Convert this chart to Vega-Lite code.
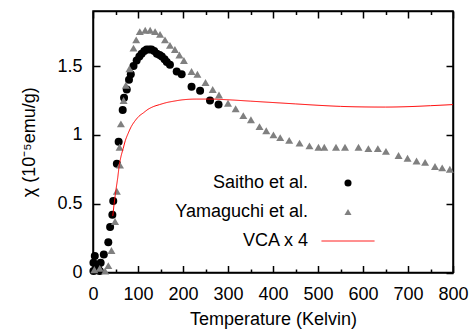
{
  "$schema": "https://vega.github.io/schema/vega-lite/v6.json",
  "width": 360,
  "height": 261.5,
  "autosize": "none",
  "padding": {"left": 93, "top": 11, "right": 21, "bottom": 57.5},
  "config": {
    "view": {"stroke": "#000000", "strokeWidth": 1.5},
    "font": "Liberation Sans",
    "axis": {
      "grid": false,
      "domainColor": "#000000",
      "domainWidth": 1.5,
      "tickColor": "#000000",
      "tickWidth": 1.5,
      "labelColor": "#000000",
      "titleColor": "#000000",
      "labelFont": "Liberation Sans",
      "titleFont": "Liberation Sans",
      "labelFontSize": 18,
      "titleFontSize": 18,
      "titleFontWeight": "normal"
    },
    "legend": {
      "labelFont": "Liberation Sans",
      "labelFontSize": 18,
      "labelColor": "#000000",
      "labelLimit": 0
    }
  },
  "data": {
    "values": [
      {"series": "Saitho et al.", "T": 1, "chi": 0.01},
      {"series": "Saitho et al.", "T": 1, "chi": 0.07},
      {"series": "Saitho et al.", "T": 4, "chi": 0.12},
      {"series": "Saitho et al.", "T": 11, "chi": 0.03},
      {"series": "Saitho et al.", "T": 15, "chi": 0.01},
      {"series": "Saitho et al.", "T": 17, "chi": 0.07},
      {"series": "Saitho et al.", "T": 24, "chi": 0.13},
      {"series": "Saitho et al.", "T": 34, "chi": 0.22},
      {"series": "Saitho et al.", "T": 38, "chi": 0.33},
      {"series": "Saitho et al.", "T": 43, "chi": 0.42},
      {"series": "Saitho et al.", "T": 45, "chi": 0.52},
      {"series": "Saitho et al.", "T": 53, "chi": 0.79},
      {"series": "Saitho et al.", "T": 57, "chi": 0.95},
      {"series": "Saitho et al.", "T": 66, "chi": 1.18},
      {"series": "Saitho et al.", "T": 69, "chi": 1.27},
      {"series": "Saitho et al.", "T": 75, "chi": 1.33},
      {"series": "Saitho et al.", "T": 80, "chi": 1.40},
      {"series": "Saitho et al.", "T": 84, "chi": 1.44},
      {"series": "Saitho et al.", "T": 90, "chi": 1.50},
      {"series": "Saitho et al.", "T": 97, "chi": 1.54},
      {"series": "Saitho et al.", "T": 103, "chi": 1.57},
      {"series": "Saitho et al.", "T": 108, "chi": 1.59},
      {"series": "Saitho et al.", "T": 114, "chi": 1.61},
      {"series": "Saitho et al.", "T": 119, "chi": 1.62},
      {"series": "Saitho et al.", "T": 125, "chi": 1.62},
      {"series": "Saitho et al.", "T": 130, "chi": 1.62},
      {"series": "Saitho et al.", "T": 136, "chi": 1.61},
      {"series": "Saitho et al.", "T": 142, "chi": 1.59},
      {"series": "Saitho et al.", "T": 148, "chi": 1.58},
      {"series": "Saitho et al.", "T": 153, "chi": 1.57},
      {"series": "Saitho et al.", "T": 159, "chi": 1.55},
      {"series": "Saitho et al.", "T": 164, "chi": 1.53},
      {"series": "Saitho et al.", "T": 171, "chi": 1.51},
      {"series": "Saitho et al.", "T": 186, "chi": 1.46},
      {"series": "Saitho et al.", "T": 197, "chi": 1.44},
      {"series": "Saitho et al.", "T": 219, "chi": 1.35},
      {"series": "Saitho et al.", "T": 238, "chi": 1.32},
      {"series": "Saitho et al.", "T": 260, "chi": 1.25},
      {"series": "Saitho et al.", "T": 279, "chi": 1.22},
      {"series": "Yamaguchi et al.", "T": 3, "chi": 0.02},
      {"series": "Yamaguchi et al.", "T": 15, "chi": 0.03},
      {"series": "Yamaguchi et al.", "T": 27, "chi": 0.01},
      {"series": "Yamaguchi et al.", "T": 34, "chi": 0.05},
      {"series": "Yamaguchi et al.", "T": 41, "chi": 0.16},
      {"series": "Yamaguchi et al.", "T": 49, "chi": 0.37},
      {"series": "Yamaguchi et al.", "T": 53, "chi": 0.59},
      {"series": "Yamaguchi et al.", "T": 60, "chi": 0.78},
      {"series": "Yamaguchi et al.", "T": 59, "chi": 0.91},
      {"series": "Yamaguchi et al.", "T": 62, "chi": 1.08},
      {"series": "Yamaguchi et al.", "T": 68, "chi": 1.25},
      {"series": "Yamaguchi et al.", "T": 73, "chi": 1.36},
      {"series": "Yamaguchi et al.", "T": 81, "chi": 1.48},
      {"series": "Yamaguchi et al.", "T": 90, "chi": 1.63},
      {"series": "Yamaguchi et al.", "T": 96, "chi": 1.69},
      {"series": "Yamaguchi et al.", "T": 104, "chi": 1.75},
      {"series": "Yamaguchi et al.", "T": 116, "chi": 1.76},
      {"series": "Yamaguchi et al.", "T": 127, "chi": 1.76},
      {"series": "Yamaguchi et al.", "T": 138, "chi": 1.75},
      {"series": "Yamaguchi et al.", "T": 149, "chi": 1.73},
      {"series": "Yamaguchi et al.", "T": 160, "chi": 1.69},
      {"series": "Yamaguchi et al.", "T": 171, "chi": 1.65},
      {"series": "Yamaguchi et al.", "T": 182, "chi": 1.62},
      {"series": "Yamaguchi et al.", "T": 192, "chi": 1.58},
      {"series": "Yamaguchi et al.", "T": 202, "chi": 1.54},
      {"series": "Yamaguchi et al.", "T": 219, "chi": 1.46},
      {"series": "Yamaguchi et al.", "T": 232, "chi": 1.44},
      {"series": "Yamaguchi et al.", "T": 250, "chi": 1.38},
      {"series": "Yamaguchi et al.", "T": 266, "chi": 1.33},
      {"series": "Yamaguchi et al.", "T": 280, "chi": 1.29},
      {"series": "Yamaguchi et al.", "T": 300, "chi": 1.23},
      {"series": "Yamaguchi et al.", "T": 317, "chi": 1.19},
      {"series": "Yamaguchi et al.", "T": 334, "chi": 1.14},
      {"series": "Yamaguchi et al.", "T": 351, "chi": 1.11},
      {"series": "Yamaguchi et al.", "T": 370, "chi": 1.06},
      {"series": "Yamaguchi et al.", "T": 385, "chi": 1.03},
      {"series": "Yamaguchi et al.", "T": 401, "chi": 1.00},
      {"series": "Yamaguchi et al.", "T": 416, "chi": 0.98},
      {"series": "Yamaguchi et al.", "T": 436, "chi": 0.96},
      {"series": "Yamaguchi et al.", "T": 459, "chi": 0.94},
      {"series": "Yamaguchi et al.", "T": 481, "chi": 0.92},
      {"series": "Yamaguchi et al.", "T": 501, "chi": 0.91},
      {"series": "Yamaguchi et al.", "T": 514, "chi": 0.91},
      {"series": "Yamaguchi et al.", "T": 540, "chi": 0.91},
      {"series": "Yamaguchi et al.", "T": 560, "chi": 0.91},
      {"series": "Yamaguchi et al.", "T": 590, "chi": 0.91},
      {"series": "Yamaguchi et al.", "T": 612, "chi": 0.90},
      {"series": "Yamaguchi et al.", "T": 633, "chi": 0.90},
      {"series": "Yamaguchi et al.", "T": 651, "chi": 0.88},
      {"series": "Yamaguchi et al.", "T": 679, "chi": 0.85},
      {"series": "Yamaguchi et al.", "T": 699, "chi": 0.83},
      {"series": "Yamaguchi et al.", "T": 719, "chi": 0.81},
      {"series": "Yamaguchi et al.", "T": 738, "chi": 0.80},
      {"series": "Yamaguchi et al.", "T": 760, "chi": 0.77},
      {"series": "Yamaguchi et al.", "T": 776, "chi": 0.76},
      {"series": "Yamaguchi et al.", "T": 793, "chi": 0.75},
      {"series": "VCA x 4", "T": 44, "chi": 0.41},
      {"series": "VCA x 4", "T": 47, "chi": 0.50},
      {"series": "VCA x 4", "T": 51, "chi": 0.60},
      {"series": "VCA x 4", "T": 55, "chi": 0.69},
      {"series": "VCA x 4", "T": 58, "chi": 0.77},
      {"series": "VCA x 4", "T": 62, "chi": 0.84},
      {"series": "VCA x 4", "T": 67, "chi": 0.90},
      {"series": "VCA x 4", "T": 72, "chi": 0.96},
      {"series": "VCA x 4", "T": 78, "chi": 1.01},
      {"series": "VCA x 4", "T": 85, "chi": 1.06},
      {"series": "VCA x 4", "T": 93, "chi": 1.10},
      {"series": "VCA x 4", "T": 102, "chi": 1.135},
      {"series": "VCA x 4", "T": 112, "chi": 1.16},
      {"series": "VCA x 4", "T": 122, "chi": 1.185},
      {"series": "VCA x 4", "T": 134, "chi": 1.205},
      {"series": "VCA x 4", "T": 148, "chi": 1.22},
      {"series": "VCA x 4", "T": 164, "chi": 1.235},
      {"series": "VCA x 4", "T": 180, "chi": 1.245},
      {"series": "VCA x 4", "T": 200, "chi": 1.255},
      {"series": "VCA x 4", "T": 230, "chi": 1.26},
      {"series": "VCA x 4", "T": 260, "chi": 1.26},
      {"series": "VCA x 4", "T": 300, "chi": 1.255},
      {"series": "VCA x 4", "T": 350, "chi": 1.245},
      {"series": "VCA x 4", "T": 400, "chi": 1.235},
      {"series": "VCA x 4", "T": 450, "chi": 1.225},
      {"series": "VCA x 4", "T": 500, "chi": 1.215},
      {"series": "VCA x 4", "T": 550, "chi": 1.207},
      {"series": "VCA x 4", "T": 600, "chi": 1.203},
      {"series": "VCA x 4", "T": 650, "chi": 1.202},
      {"series": "VCA x 4", "T": 700, "chi": 1.205},
      {"series": "VCA x 4", "T": 750, "chi": 1.212},
      {"series": "VCA x 4", "T": 800, "chi": 1.22}
    ]
  },
  "layer": [
    {
      "transform": [{"filter": "datum.series === 'Saitho et al.'"}],
      "mark": {"type": "point", "filled": true, "opacity": 1, "size": 64, "clip": false},
      "encoding": {
        "x": {
          "field": "T", "type": "quantitative",
          "scale": {"domain": [0, 800], "nice": false, "zero": false},
          "axis": {
            "orient": "bottom",
            "values": [0, 50, 100, 150, 200, 250, 300, 350, 400, 450, 500, 550, 600, 650, 700, 750, 800],
            "format": "d",
            "labelExpr": "datum.value % 100 === 0 ? datum.label : ''",
            "tickSize": {"condition": {"test": "datum.value % 100 === 0", "value": -7}, "value": -3.5},
            "labelPadding": 20,
            "labelFlush": false,
            "labelOverlap": false,
            "title": "Temperature (Kelvin)",
            "titlePadding": 3
          }
        },
        "y": {
          "field": "chi", "type": "quantitative",
          "scale": {"domain": [0, 1.9], "nice": false},
          "axis": {
            "orient": "left",
            "values": [0, 0.5, 1, 1.5],
            "format": "~g",
            "tickSize": -7,
            "labelPadding": 18,
            "labelFlush": false,
            "labelOverlap": false,
            "title": "χ (10⁻⁵emu/g)",
            "titlePadding": 18
          }
        },
        "color": {
          "field": "series", "type": "nominal",
          "scale": {"domain": ["Saitho et al.", "Yamaguchi et al."], "range": ["#000000", "#808080"]},
          "legend": {
            "orient": "none", "legendX": 246, "legendY": 163, "title": null, "padding": 0,
            "rowPadding": 11, "labelAlign": "right", "labelOffset": -49, "symbolSize": 50,
            "symbolOpacity": 1, "symbolStrokeWidth": 0
          }
        },
        "shape": {
          "field": "series", "type": "nominal",
          "scale": {"domain": ["Saitho et al.", "Yamaguchi et al."], "range": ["circle", "triangle-up"]},
          "legend": {
            "orient": "none", "legendX": 246, "legendY": 163, "title": null, "padding": 0,
            "rowPadding": 11, "labelAlign": "right", "labelOffset": -49, "symbolSize": 50,
            "symbolOpacity": 1, "symbolStrokeWidth": 0
          }
        }
      }
    },
    {
      "transform": [{"filter": "datum.series === 'Yamaguchi et al.'"}],
      "mark": {"type": "point", "filled": true, "opacity": 1, "size": 64, "clip": false},
      "encoding": {
        "x": {"field": "T", "type": "quantitative", "axis": null},
        "y": {"field": "chi", "type": "quantitative", "axis": null},
        "color": {
          "field": "series", "type": "nominal",
          "scale": {"domain": ["Saitho et al.", "Yamaguchi et al."], "range": ["#000000", "#808080"]},
          "legend": {
            "orient": "none", "legendX": 246, "legendY": 163, "title": null, "padding": 0,
            "rowPadding": 11, "labelAlign": "right", "labelOffset": -49, "symbolSize": 50,
            "symbolOpacity": 1, "symbolStrokeWidth": 0
          }
        },
        "shape": {
          "field": "series", "type": "nominal",
          "scale": {"domain": ["Saitho et al.", "Yamaguchi et al."], "range": ["circle", "triangle-up"]},
          "legend": {
            "orient": "none", "legendX": 246, "legendY": 163, "title": null, "padding": 0,
            "rowPadding": 11, "labelAlign": "right", "labelOffset": -49, "symbolSize": 50,
            "symbolOpacity": 1, "symbolStrokeWidth": 0
          }
        }
      }
    },
    {
      "transform": [{"filter": "datum.series === 'VCA x 4'"}],
      "mark": {"type": "line", "color": "#ff0000", "strokeWidth": 1, "interpolate": "monotone"},
      "encoding": {
        "x": {
          "field": "T", "type": "quantitative",
          "axis": {
            "orient": "top",
            "values": [0, 50, 100, 150, 200, 250, 300, 350, 400, 450, 500, 550, 600, 650, 700, 750, 800],
            "labels": false,
            "tickSize": {"condition": {"test": "datum.value % 100 === 0", "value": -7}, "value": -3.5},
            "title": null
          }
        },
        "y": {
          "field": "chi", "type": "quantitative",
          "axis": {
            "orient": "right",
            "values": [0, 0.5, 1, 1.5],
            "labels": false,
            "tickSize": -7,
            "title": null
          }
        },
        "strokeDash": {
          "field": "series", "type": "nominal",
          "scale": {"domain": ["VCA x 4"], "range": [[1, 0]]},
          "legend": {
            "orient": "none", "legendX": 228, "legendY": 203, "title": null, "padding": 0,
            "labelAlign": "right", "labelOffset": -67, "symbolType": "stroke", "symbolSize": 2809,
            "symbolStrokeColor": "#ff0000", "symbolStrokeWidth": 1, "symbolOpacity": 1
          }
        }
      }
    }
  ],
  "resolve": {"axis": {"x": "independent", "y": "independent"}}
}
